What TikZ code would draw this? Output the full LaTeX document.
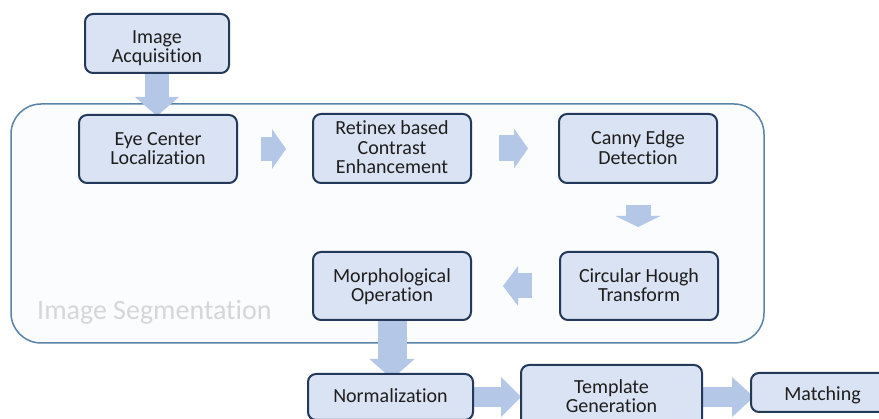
\documentclass[tikz,border=0pt]{standalone}
\usepackage{fontspec}
\setmainfont{Carlito}[Ligatures=NoCommon]
\usetikzlibrary{arrows.meta}
\pgfdeclarelayer{back}
\pgfdeclarelayer{mid}
\pgfsetlayers{back,mid,main}
\definecolor{boxfill}{HTML}{DAE3F3}
\definecolor{boxline}{HTML}{24385A}
\definecolor{arrfill}{HTML}{B4C7E7}
\definecolor{contline}{HTML}{5B83AA}
\definecolor{contfill}{HTML}{FAFCFE}
\definecolor{seglabel}{HTML}{D6D6D6}
\definecolor{txt}{HTML}{1E1E1E}
\begin{document}
\begin{tikzpicture}[x=1pt,y=-1pt,
  stage/.style={draw=boxline, line width=2pt, fill=boxfill, rounded corners=8pt,
    align=center, font=\fontsize{20}{19.5}\selectfont, text=txt, inner sep=0pt,
    text depth=0pt},
  oneline/.style={text height=12pt},
  twoline/.style={text height=31.5pt},
  threeline/.style={text height=51pt},
  flow/.style={draw=arrfill}]
\useasboundingbox (0,0) rectangle (879,419);
\begin{pgfonlayer}{back}
  \fill[white] (0,0) rectangle (879,419);
  \node[draw=contline, line width=1.5pt, fill=contfill, rounded corners=30pt,
    minimum width=753pt, minimum height=239pt, inner sep=0pt] (seg) at (387.5,223.5) {};
\end{pgfonlayer}
\node[anchor=base west, text=seglabel, font=\fontsize{28}{28}\selectfont, inner sep=0pt] (seglab) at (37,320) {Image Segmentation};

\node[stage, text height=39pt, minimum width=144pt, minimum height=59pt] (acq) at (157,43.5) {Image\\Acquisition};
\node[stage, twoline, minimum width=158pt, minimum height=68pt] (eye) at (158,149) {Eye Center\\Localization};
\node[stage, threeline, minimum width=158pt, minimum height=69pt] (ret) at (392,148.5) {Retinex based\\Contrast\\Enhancement};
\node[stage, twoline, minimum width=158pt, minimum height=69pt] (can) at (638,148.5) {Canny Edge\\Detection};
\node[stage, twoline, minimum width=158pt, minimum height=68pt] (hou) at (639,286) {Circular Hough\\Transform};
\node[stage, twoline, minimum width=158pt, minimum height=68pt] (mor) at (392,286) {Morphological\\Operation};
\node[stage, oneline, minimum width=165pt, minimum height=46pt] (nor) at (390.5,397) {Normalization};
\node[stage, twoline, minimum width=181pt, minimum height=64pt] (tem) at (611.5,397) {Template\\Generation};
\node[stage, text height=17pt, minimum width=143pt, minimum height=39pt] (mat) at (822.5,392.5) {Matching};

\begin{pgfonlayer}{mid}
  \draw[flow, line width=24pt, -{Triangle[length=19pt,width=44pt,line width=0pt]}, shorten >=-2pt]
    (acq.south) -- (acq.south |- eye.north);
  \draw[flow, line width=24pt, -{Triangle[length=14pt,width=40pt,line width=0pt]}, shorten <=23pt, shorten >=26pt]
    (eye.east) -- (eye.east -| ret.west);
  \draw[flow, line width=26pt, -{Triangle[length=14pt,width=40pt,line width=0pt]}, shorten <=27pt, shorten >=30pt]
    (ret.east) -- (ret.east -| can.west);
  \draw[flow, line width=25pt, -{Triangle[length=11pt,width=45pt,line width=0pt]}, shorten <=21pt, shorten >=24pt]
    (can.south) -- (can.south |- hou.north);
  \draw[flow, line width=25pt, -{Triangle[length=15pt,width=40pt,line width=0pt]}, shorten <=27pt, shorten >=31pt]
    (hou.west) -- (hou.west -| mor.east);
  \draw[flow, line width=29pt, -{Triangle[length=20pt,width=45pt,line width=0pt]}, shorten >=-6pt]
    (mor.south) -- (mor.south |- nor.north);
  \draw[flow, line width=20pt, -{Triangle[length=20pt,width=40pt,line width=0pt]}, shorten >=-1pt]
    (nor.east) -- (nor.east -| tem.west);
  \draw[flow, line width=20pt, -{Triangle[length=22pt,width=40pt,line width=0pt]}, shorten >=-4pt]
    (tem.east) -- (tem.east -| mat.west);
\end{pgfonlayer}
\end{tikzpicture}
\end{document}
